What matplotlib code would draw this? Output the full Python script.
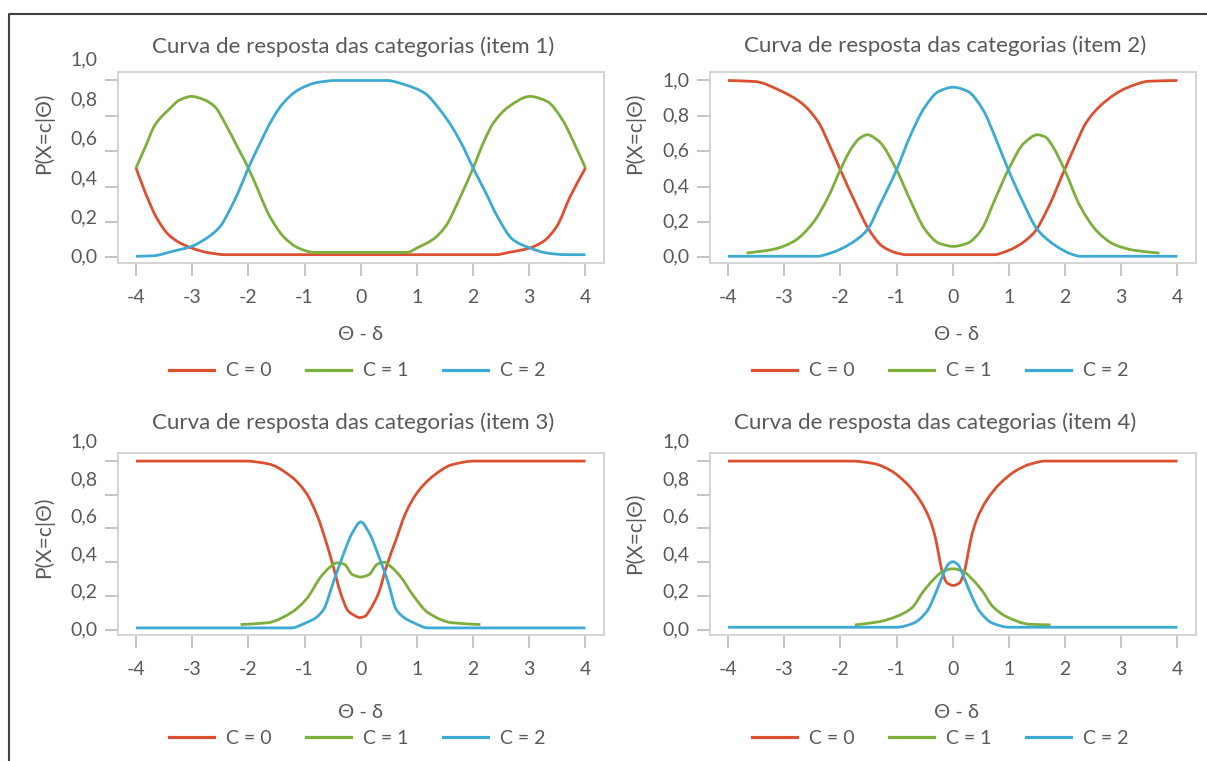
import matplotlib
matplotlib.use("Agg")
import numpy as np
import matplotlib.pyplot as plt
import matplotlib.transforms as mtransforms
from matplotlib.lines import Line2D
from matplotlib.path import Path
from matplotlib.patches import PathPatch

plt.rcParams['font.family'] = ['Lato', 'DejaVu Sans']

# ---- data ----
x_ticks = [-4, -3, -2, -1, 0, 1, 2, 3, 4]
x_tick_labels = ["-4", "-3", "-2", "-1", "0", "1", "2", "3", "4"]
y_ticks = [0.0, 0.2, 0.4, 0.6, 0.8, 1.0]
y_tick_labels = ["0,0", "0,2", "0,4", "0,6", "0,8", "1,0"]
series_names = ["C = 0", "C = 1", "C = 2"]
titles = ["Curva de resposta das categorias (item 1)",
          "Curva de resposta das categorias (item 2)",
          "Curva de resposta das categorias (item 3)",
          "Curva de resposta das categorias (item 4)"]

# item 1
i1_c0_x = [-4, -3.83, -3.63, -3.42, -3.22, -3.01, -2.74, -2.4, 2.4, 2.64, 3.01, 3.25, 3.49, 3.73, 4]
i1_c0_y = [0.505, 0.363, 0.222, 0.128, 0.082, 0.053, 0.028, 0.015, 0.015, 0.028, 0.053, 0.09, 0.175, 0.345, 0.505]
i1_c1_x = [-4, -3.83, -3.66, -3.42, -3.22, -3.01, -2.8, -2.6, -2.4, -2.2, -2.0, -1.8, -1.65, -1.5,
           -1.38, -1.11, -0.83, 0.83, 1.0, 1.28, 1.51, 1.75, 2.0, 2.2, 2.36, 2.64, 3.01, 3.32, 3.59, 3.8, 4]
i1_c1_y = [0.505, 0.627, 0.75, 0.834, 0.89, 0.91, 0.893, 0.853, 0.75, 0.627, 0.505, 0.36, 0.25, 0.17,
           0.119, 0.053, 0.028, 0.028, 0.053, 0.10, 0.175, 0.326, 0.505, 0.66, 0.759, 0.853, 0.91, 0.881, 0.778, 0.645, 0.505]
i1_c2_x = [-4, -3.69, -3.35, -3.01, -2.74, -2.5, -2.33, -2.16, -2.0, -1.79, -1.58, -1.38, -1.11, -0.77, -0.43,
           0.46, 0.8, 1.14, 1.41, 1.62, 1.82, 2.0, 2.23, 2.43, 2.71, 3.01, 3.32, 3.66, 4]
i1_c2_y = [0.006, 0.009, 0.034, 0.062, 0.109, 0.175, 0.269, 0.382, 0.505, 0.646, 0.778, 0.872, 0.947, 0.989, 1.0,
           1.0, 0.975, 0.928, 0.834, 0.740, 0.627, 0.505, 0.363, 0.232, 0.10, 0.053, 0.024, 0.015, 0.015]

# item 2
i2_c0_x = [-4, -3.52, -3.04, -2.69, -2.38, -2.21, -2.0, -1.73, -1.49, -1.25, -1.0, -0.83,
           0.75, 0.9, 1.09, 1.44, 1.71, 1.99, 2.2, 2.37, 2.68, 3.09, 3.5, 4]
i2_c0_y = [1.0, 0.994, 0.938, 0.872, 0.759, 0.646, 0.495, 0.307, 0.156, 0.062, 0.025, 0.015,
           0.015, 0.028, 0.053, 0.137, 0.288, 0.495, 0.646, 0.759, 0.872, 0.957, 0.996, 1.0]
i2_c1_x = [-3.67, -3.17, -2.83, -2.49, -2.21, -2.0, -1.80, -1.65, -1.52, -1.31, -1.0, -0.76, -0.49, -0.25,
           0.01, 0.27, 0.51, 0.75, 0.99, 1.27, 1.51, 1.65, 1.78, 1.99, 2.27, 2.57, 2.88, 3.23, 3.68]
i2_c1_y = [0.024, 0.047, 0.09, 0.194, 0.345, 0.495, 0.618, 0.675, 0.693, 0.655, 0.495, 0.326, 0.156, 0.081,
           0.062, 0.081, 0.156, 0.326, 0.495, 0.646, 0.693, 0.68, 0.627, 0.495, 0.288, 0.147, 0.072, 0.040, 0.024]
i2_c2_x = [-4, -2.42, -2.14, -1.80, -1.52, -1.31, -1.0, -0.76, -0.49, -0.25, 0.01, 0.27, 0.54, 0.75,
           0.99, 1.23, 1.51, 1.85, 2.1, 2.27, 4]
i2_c2_y = [0.006, 0.006, 0.028, 0.081, 0.156, 0.288, 0.495, 0.684, 0.853, 0.938, 0.962, 0.938, 0.834, 0.684,
           0.495, 0.326, 0.156, 0.062, 0.02, 0.006, 0.006]

# item 3
i3_c0_x = [-4, -2.06, -1.65, -1.24, -0.97, -0.77, -0.63, -0.49, -0.36, -0.22, -0.1, -0.02, 0.08, 0.15,
           0.32, 0.46, 0.63, 0.80, 1.0, 1.28, 1.62, 2.02, 4]
i3_c0_y = [1.0, 1.0, 0.984, 0.909, 0.81, 0.673, 0.535, 0.377, 0.219, 0.110, 0.082, 0.071, 0.08, 0.110,
           0.219, 0.377, 0.535, 0.692, 0.81, 0.909, 0.978, 1.0, 1.0]
i3_c1_x = [-2.14, -1.65, -1.24, -0.97, -0.70, -0.55, -0.43, -0.29, -0.15, 0.0, 0.15, 0.29, 0.42, 0.55,
           0.70, 0.94, 1.2, 1.62, 2.13]
i3_c1_y = [0.030, 0.041, 0.10, 0.18, 0.318, 0.37, 0.396, 0.387, 0.327, 0.312, 0.327, 0.387, 0.40, 0.37,
           0.318, 0.20, 0.10, 0.041, 0.03]
i3_c2_x = [-4, -1.24, -0.97, -0.8, -0.66, -0.49, -0.32, -0.15, 0.0, 0.15, 0.32, 0.49, 0.63, 0.8, 0.94, 1.2, 4]
i3_c2_y = [0.01, 0.01, 0.041, 0.07, 0.12, 0.278, 0.436, 0.574, 0.639, 0.574, 0.436, 0.278, 0.12, 0.065,
           0.041, 0.01, 0.01]

# item 4
i4_c0_x = [-4, -1.8, -1.4, -1.114, -0.817, -0.58, -0.40, -0.31, -0.25, -0.19, -0.10, 0.01, 0.12, 0.21,
           0.27, 0.33, 0.42, 0.60, 0.84, 1.14, 1.38, 1.65, 4]
i4_c0_y = [1.0, 1.0, 0.985, 0.946, 0.866, 0.766, 0.647, 0.547, 0.447, 0.347, 0.277, 0.262, 0.277, 0.347,
           0.447, 0.547, 0.647, 0.766, 0.866, 0.946, 0.982, 1.0, 1.0]
i4_c1_x = [-1.74, -1.29, -1.0, -0.73, -0.52, -0.34, -0.17, 0.0, 0.18, 0.35, 0.53, 0.71, 0.95, 1.36, 1.74]
i4_c1_y = [0.028, 0.048, 0.078, 0.128, 0.228, 0.298, 0.347, 0.361, 0.347, 0.298, 0.228, 0.138, 0.078, 0.032, 0.028]
i4_c2_x = [-4, -1.0, -0.70, -0.46, -0.29, -0.17, -0.08, 0.0, 0.09, 0.18, 0.30, 0.48, 0.71, 1.01, 4]
i4_c2_y = [0.014, 0.014, 0.038, 0.108, 0.228, 0.327, 0.387, 0.403, 0.387, 0.327, 0.228, 0.108, 0.038, 0.014, 0.014]

items = [
    [(i1_c0_x, i1_c0_y), (i1_c1_x, i1_c1_y), (i1_c2_x, i1_c2_y)],
    [(i2_c0_x, i2_c0_y), (i2_c1_x, i2_c1_y), (i2_c2_x, i2_c2_y)],
    [(i3_c0_x, i3_c0_y), (i3_c1_x, i3_c1_y), (i3_c2_x, i3_c2_y)],
    [(i4_c0_x, i4_c0_y), (i4_c1_x, i4_c1_y), (i4_c2_x, i4_c2_y)],
]

# ---- styling / layout (pixels of the 1207x761 picture) ----
W, H = 1207, 761
colors = ["#DC5032", "#7DAF3C", "#3CAAD2"]
txt = "#595959"
grey_box = "#D4D4D4"
grey_tick = "#BFBFBF"

# plot-area boxes: left, top, right, bottom
boxes = [(118, 72, 604, 263), (710, 72, 1196, 263), (118, 453, 604, 635), (710, 453, 1196, 635)]
title_pos = [(353, 47), (945, 46), (353, 423), (935, 423)]
ylabel_pos = [(44, 133), (635, 133), (44, 537), (635, 533)]
xlabel_pos = [(360, 335), (956, 335), (360, 712), (956, 712)]
legend_pos = [(357, 371), (940, 371), (357, 738), (940, 738)]
# the y labels of items 1, 3 and 4 are spread wider than their ticks
label_stretch = [1.115, 1.0, 1.112, 1.113]


def smooth_path(xs, ys):
    # smoothed line through the points (like Excel's "smoothed line"),
    # drawn as cubic Bezier segments with monotone (pchip) tangents
    x = np.asarray(xs, float)
    y = np.asarray(ys, float)
    h = np.diff(x)
    d = np.diff(y) / h
    m = np.zeros_like(y)
    for i in range(1, len(x) - 1):
        if d[i - 1] * d[i] > 0:
            w1 = 2 * h[i] + h[i - 1]
            w2 = h[i] + 2 * h[i - 1]
            m[i] = (w1 + w2) / (w1 / d[i - 1] + w2 / d[i])
    m[0] = d[0]
    m[-1] = d[-1]
    verts = [(x[0], y[0])]
    codes = [Path.MOVETO]
    for i in range(len(x) - 1):
        verts += [(x[i] + h[i] / 3, y[i] + m[i] * h[i] / 3),
                  (x[i + 1] - h[i] / 3, y[i + 1] - m[i + 1] * h[i] / 3),
                  (x[i + 1], y[i + 1])]
        codes += [Path.CURVE4] * 3
    return Path(verts, codes)


fig = plt.figure(figsize=(W / 100, H / 100), dpi=100)


def fx(x):
    return x / W


def fy(y):
    return 1 - y / H


for k in range(4):
    l, t, r, b = boxes[k]
    ax = fig.add_axes([fx(l), fy(b), (r - l) / W, (b - t) / H])
    handles = []
    for (xs, ys), c, name in zip(items[k], colors, series_names):
        ax.add_patch(PathPatch(smooth_path(xs, ys), fill=False, edgecolor=c, lw=2.0,
                               capstyle='butt', joinstyle='round'))
        handles.append(Line2D([], [], color=c, lw=2.3, label=name))
    ax.set_xlim(-4.32, 4.33)
    ax.set_ylim(-0.032, 1.048)
    for s in ax.spines.values():
        s.set_color(grey_box)
        s.set_linewidth(1.4)
    ax.set_xticks(x_ticks)
    ax.set_xticklabels(x_tick_labels)
    ax.set_yticks(y_ticks)
    ax.set_yticklabels([])
    ax.tick_params(axis='both', direction='out', color=grey_tick, width=1.3,
                   labelcolor=txt, labelsize=14)
    ax.tick_params(axis='x', length=9, pad=9.5)
    ax.tick_params(axis='y', length=9.5)
    trans = mtransforms.blended_transform_factory(ax.transAxes, ax.transData)
    for v, lab in zip(y_ticks, y_tick_labels):
        ax.text(-0.043, v * label_stretch[k], lab, transform=trans, ha='right', va='center',
                fontsize=14, color=txt, clip_on=False)

    fig.text(fx(title_pos[k][0]), fy(title_pos[k][1]), titles[k], ha='center', va='center',
             fontsize=16, color=txt)
    fig.text(fx(ylabel_pos[k][0]), fy(ylabel_pos[k][1]), "P(X=c|Θ)", rotation=90,
             ha='center', va='center', fontsize=15, color=txt)
    fig.text(fx(xlabel_pos[k][0]), fy(xlabel_pos[k][1]), "Θ - δ", ha='center', va='center',
             fontsize=14.5, color=txt)
    leg = ax.legend(handles=handles, loc='center',
                    bbox_to_anchor=(fx(legend_pos[k][0]), fy(legend_pos[k][1])),
                    bbox_transform=fig.transFigure, ncol=3, frameon=False, fontsize=14,
                    handlelength=2.35, handletextpad=0.6, columnspacing=1.75, borderpad=0)
    for tx in leg.get_texts():
        tx.set_color(txt)

# dark frame along the top and left edges
fig.add_artist(Line2D([fx(9), fx(9), 1.0], [0.0, fy(14), fy(14)], color="#404040", lw=1.5,
                      transform=fig.transFigure))

fig.savefig("out.png", dpi=100)
